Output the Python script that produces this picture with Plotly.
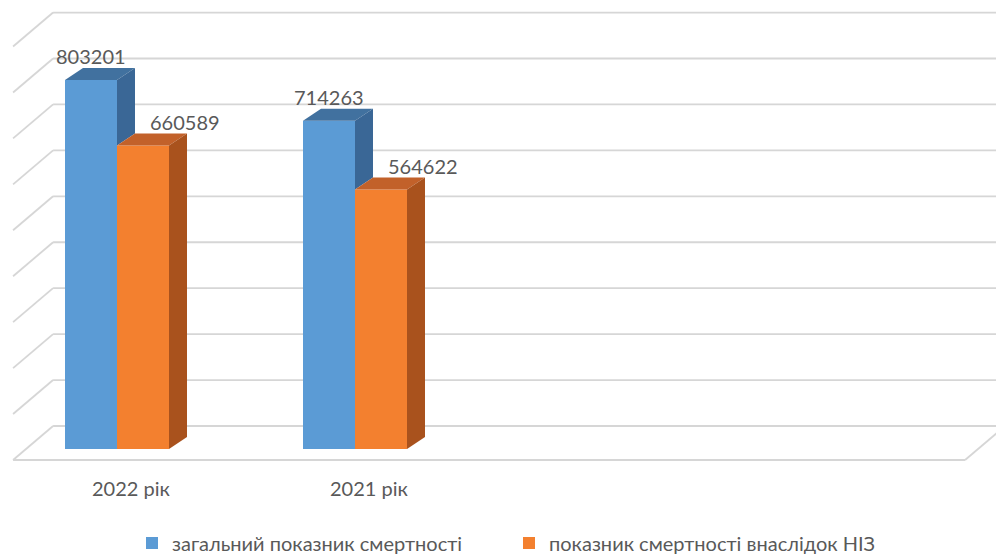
import plotly.graph_objects as go

# ---- data -------------------------------------------------------------
categories = ["2022 рік", "2021 рік"]
total_deaths = [803201, 714263]
ncd_deaths = [660589, 564622]
series_names = ["загальний показник смертності", "показник смертності внаслідок НІЗ"]
grid_values = [0, 100000, 200000, 300000, 400000, 500000, 600000, 700000, 800000, 900000]
n_slots = 4  # the category axis leaves room for four groups

# ---- canvas geometry (pixels) -----------------------------------------
W, H = 996, 555
SLOT_PX = 238            # width of one category slot
X0_PX = 117              # pixel of the first group centre (front plane)
Y0_PX = 449              # pixel of value 0 on the front plane
PX_PER_UNIT = 459.4e-6   # vertical pixels per unit of value

BAR_W = 52 / SLOT_PX
BAR_DEPTH = (18, 12)     # oblique offset of a column's back face (right, up)
WALL_BACK = (27, 23)     # back wall offset from the front plane
WALL_FRONT = (-13, -11)  # front edge of the floor
WALL_LEFT = -0.382       # left wall position in slot units (front plane)

def dx(px):
    return px / SLOT_PX

def dy(px):
    return px / PX_PER_UNIT

x_range = [-X0_PX / SLOT_PX, (W - X0_PX) / SLOT_PX]
y_range = [-(H - Y0_PX) / PX_PER_UNIT, Y0_PX / PX_PER_UNIT]

FONT = "Lato, 'Open Sans', sans-serif"
TEXT_COL = "#595959"
GRID_COL = "#d6d6d6"

blue_front, blue_top, blue_side = "#5b9bd5", "#41719f", "#3a6796"
orange_front, orange_top, orange_side = "#f3802f", "#c2612a", "#a9521d"

fig = go.Figure()

# ---- walls and floor ----------------------------------------------------
shapes = []
bx, by = dx(WALL_BACK[0]), dy(WALL_BACK[1])
fx, fy = dx(WALL_FRONT[0]), dy(WALL_FRONT[1])
x_left = WALL_LEFT
x_right = WALL_LEFT + n_slots
for v in grid_values:
    # back wall line
    shapes.append(dict(type="line", xref="x", yref="y", layer="below",
                       x0=x_left + bx, y0=v + by, x1=x_right + bx + 1, y1=v + by,
                       line=dict(color=GRID_COL, width=1.8)))
    # side wall line
    shapes.append(dict(type="line", xref="x", yref="y", layer="below",
                       x0=x_left + bx, y0=v + by, x1=x_left + fx, y1=v + fy,
                       line=dict(color=GRID_COL, width=1.8)))
# front floor edge and right floor edge
shapes.append(dict(type="line", xref="x", yref="y", layer="below",
                   x0=x_left + fx, y0=fy, x1=x_right + fx, y1=fy,
                   line=dict(color=GRID_COL, width=1.8)))
shapes.append(dict(type="line", xref="x", yref="y", layer="below",
                   x0=x_right + fx, y0=fy, x1=x_right + bx, y1=by,
                   line=dict(color=GRID_COL, width=1.8)))

# ---- front faces of the columns ---------------------------------------
xs = list(range(len(categories)))
fig.add_trace(go.Bar(x=xs, y=total_deaths, name=series_names[0],
                     marker=dict(color=blue_front, line=dict(width=0))))
fig.add_trace(go.Bar(x=xs, y=ncd_deaths, name=series_names[1],
                     marker=dict(color=orange_front, line=dict(width=0))))

# ---- top and side faces -------------------------------------------------
ddx, ddy = dx(BAR_DEPTH[0]), dy(BAR_DEPTH[1])

def face(xp, yp, color):
    fig.add_trace(go.Scatter(x=xp + [xp[0]], y=yp + [yp[0]], mode="lines",
                             fill="toself", fillcolor=color,
                             line=dict(width=0, color=color),
                             hoverinfo="skip", showlegend=False))

for i in xs:
    # first series column: left of the group centre
    xl, xr = i - BAR_W, i
    v, vo = total_deaths[i], ncd_deaths[i]
    face([xl, xl + ddx, xr + ddx, xr], [v, v + ddy, v + ddy, v], blue_top)
    # only the part of its side rising above the neighbouring column shows
    face([xr, xr, xr + ddx, xr + ddx], [vo, v, v + ddy, vo + ddy], blue_side)
    # second series column
    xl, xr = i, i + BAR_W
    face([xl, xl + ddx, xr + ddx, xr], [vo, vo + ddy, vo + ddy, vo], orange_top)
    face([xr, xr, xr + ddx, xr + ddx], [0, vo, vo + ddy, ddy], orange_side)

# ---- labels -------------------------------------------------------------
annotations = []
for i in xs:
    annotations.append(dict(x=i - BAR_W / 2, y=total_deaths[i], xref="x", yref="y",
                            text=str(total_deaths[i]), showarrow=False,
                            yshift=24, yanchor="middle",
                            font=dict(family=FONT, size=20, color=TEXT_COL)))
    annotations.append(dict(x=i + BAR_W / 2, y=ncd_deaths[i], xref="x", yref="y",
                            text=str(ncd_deaths[i]), showarrow=False,
                            xshift=42, yshift=24, yanchor="middle",
                            font=dict(family=FONT, size=20, color=TEXT_COL)))
    annotations.append(dict(x=i, y=0, xref="x", yref="y", text=categories[i],
                            showarrow=False, xshift=14, yshift=-39, yanchor="middle",
                            font=dict(family=FONT, size=20, color=TEXT_COL)))

fig.update_layout(
    width=W, height=H,
    margin=dict(l=0, r=0, t=0, b=0, autoexpand=False),
    paper_bgcolor="white", plot_bgcolor="white",
    barmode="group", bargap=1 - 2 * BAR_W, bargroupgap=0,
    xaxis=dict(range=x_range, visible=False, fixedrange=True),
    yaxis=dict(range=y_range, visible=False, fixedrange=True),
    shapes=shapes, annotations=annotations,
    showlegend=True,
    legend=dict(orientation="h", x=132 / W, xanchor="left", y=1 - 543 / H,
                yanchor="middle", bgcolor="rgba(0,0,0,0)",
                entrywidth=332, entrywidthmode="pixels", itemwidth=30,
                font=dict(family=FONT, size=20, color=TEXT_COL)),
)

fig.write_html("out.html")
